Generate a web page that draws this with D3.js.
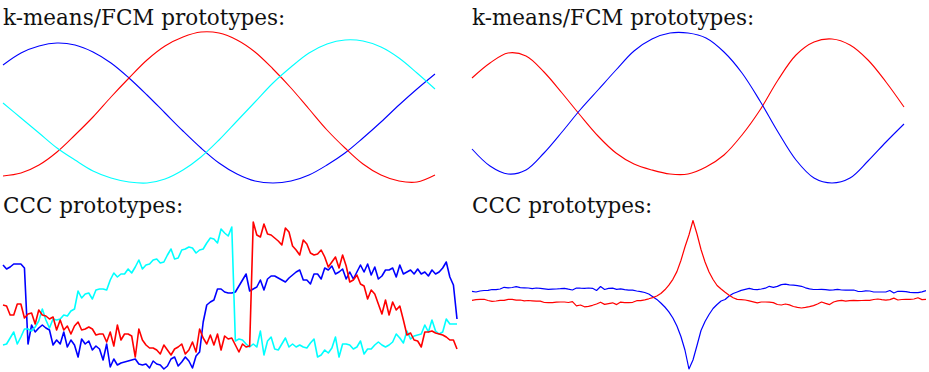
<!DOCTYPE html>
<html>
<head>
<meta charset="utf-8">
<script src="https://cdn.jsdelivr.net/npm/d3@7"></script>
<style>
  body { margin: 0; background: #fff; }
</style>
</head>
<body>
<svg id="chart" width="929" height="372"></svg>
<script>
// k-means/FCM prototypes, left (3 clusters)
const kmLeftBlue = [119,131,138,141,139,132,121,106,89,71,53,36,21,10,3,1,3,9,19,31,46,62,79,95,110];
const kmLeftRed = [8,11,19,32,49,67,87,106,124,138,147,152,151,144,132,115,96,75,54,36,20,9,3,2,9];
const kmLeftCyan = [81,66,51,36,24,13,6,2,1,5,14,27,44,63,82,101,117,131,140,144,143,137,126,111,95];

// k-means/FCM prototypes, right (2 clusters)
const kmRightRed = [106,121,131,128,112,91,69,48,31,20,14,10,10,17,29,49,74,104,129,142,145,139,124,102,77];
const kmRightBlue = [35,18,10,14,31,52,74,94,114,133,145,151,151,146,132,111,83,52,24,6,1,6,23,42,60];

// CCC prototypes, left (3 clusters)
const cccLeftBlue = [
  107,103,105,108,108,108,104,28,47,40, 44,47,44,42,27,32,28,40,25,32,
  27,15,33,28,31,22,26,23,12,28, 5,13,7,9,10,11,12,13,8,7,
  8,4,11,8,7,3,6,13,15,6, 10,15,11,4,16,20,50,67,70,72,
  83,83,80,79,79,80,86,92,98,81, 83,85,92,82,93,96,96,94,92,90,
  94,97,100,102,92,92,88,98,98,93, 104,102,106,98,100,103,93,100,93,100,
  107,100,108,97,105,93,96,102,102,104, 95,107,98,100,102,98,103,98,100,96,
  102,98,100,104,110,95,87,53];
const cccLeftRed = [
  67,66,57,57,68,68,54,58,59,48, 62,57,56,53,55,42,52,42,46,38,
  46,50,42,43,45,43,37,38,38,30, 40,26,47,32,38,38,36,15,43,32,
  27,24,24,22,18,27,22,17,23,25, 28,18,22,30,20,43,34,28,37,27,
  38,22,36,33,34,27,20,28,25,26, 150,137,135,148,138,137,134,131,127,144,
  140,126,122,117,132,128,119,117,118,122, 115,105,110,115,104,117,106,90,92,97,
  88,86,73,82,78,68,58,72,57,70, 62,66,52,37,39,32,31,25,40,40,
  41,39,38,37,35,32,32,23];
const cccLeftCyan = [
  27,28,34,40,28,35,43,43,41,45, 51,63,52,44,53,52,53,57,56,61,
  63,81,74,78,79,73,82,83,83,82, 92,99,95,98,98,103,99,105,112,103,
  107,108,112,113,109,110,117,123,113,114, 122,123,125,124,119,122,123,129,134,133,
  129,143,139,136,145,31,33,32,28,25, 28,25,41,17,31,35,23,22,28,34,
  25,28,25,27,25,24,29,33,15,17, 22,19,24,35,15,28,28,27,23,25,
  31,18,23,23,27,30,27,25,27,30, 38,34,29,41,33,36,37,38,47,40,
  52,41,38,40,53,48,48,48];

// CCC prototypes, right (2 clusters)
const cccRightBlue = [
  80.7,80,81,81.5,81.7,82.5,82.3,83,84.7,84.2, 84.5,85.3,84.3,84.2,84,83.3,84,83.7,83.2,82.7,
  82.9,83,83.3,83.7,82.8,82,84,83.8,83.7,84, 83.7,81.5,85.5,82.5,83.6,83.8,82.7,83.2,82.3,81.8,
  81.8,81,80.4,79.5,78,75.3,72.6,69,65,60.2, 54,46,35.5,22,3,12,26.5,41.5,50.5,57.5,
  63.5,67.5,71,72.5,76,78.5,80,81.6,82.6,83.6, 82.7,82.4,83,83.8,85.7,84.7,85.6,87.4,87.8,87.2,
  86.8,86.3,85.7,84.2,83.1,82.5,82.5,82.7,82.4,81.9, 82.1,82.6,82,81.8,81.9,82,80.7,80.5,81.2,81,
  80,80,80,80,81.5,79,80.7,80.7,80.4,79.6, 79.3,79.3,80.2,81.3];
const cccRightRed = [
  71.7,72.3,72.7,72.7,71.5,70.7,71,71.7,71.7,72.7, 72.6,71.8,72,71.2,71.5,71.2,70.8,70.9,69.5,69.3,
  69.4,69.8,70,70,69.5,70.4,66.2,67,65.2,65.7, 66.7,68,69.8,67.6,68.4,69.2,67.4,69.9,69.3,69.3,
  69.7,71.3,71.3,72.2,73.2,74.4,76,78.5,82.2,86.8, 92.7,100.4,111.5,125,137,151.5,138,122.5,110,100,
  92.5,86.5,83,79.7,76.8,74.3,72.6,72.3,72,71.1, 70.2,69.1,70,70,69.9,69.4,67.5,67,68,67.1,
  65.5,64.6,64,64.6,65.3,66.4,68,70,68.6,67.4, 70,71.1,71.7,70.8,71.3,71.6,71.3,71.5,71.7,71.7,
  72.5,73,72.3,71.8,72.4,73.9,72,72.5,72.7,72.7, 73,74.2,72.4,72.7];

const titles = ['k-means/FCM prototypes:', 'k-means/FCM prototypes:', 'CCC prototypes:', 'CCC prototypes:'];

const svg = d3.select('#chart');

function drawPanel(cfg) {
  const g = svg.append('g');
  const n = d3.max(cfg.series, s => s.values.length);
  const x = d3.scaleLinear().domain([0, n - 1]).range([cfg.left, cfg.right]);
  const y = d3.scaleLinear().domain([0, 152]).range([cfg.bottom, cfg.top]);
  const line = d3.line()
    .x((d, i) => x(i))
    .y(d => y(d))
    .curve(cfg.curve);

  g.append('text')
    .attr('x', cfg.left)
    .attr('y', cfg.titleY)
    .attr('font-family', '"DejaVu Serif", serif')
    .attr('font-size', 21.5)
    .attr('fill', '#111')
    .text(cfg.title);

  cfg.series.forEach(s => {
    g.append('path')
      .attr('d', line(s.values))
      .attr('fill', 'none')
      .attr('stroke', s.color)
      .attr('stroke-width', cfg.lineWidth)
      .attr('stroke-linejoin', 'round');
  });
}

drawPanel({
  title: titles[0], left: 3, right: 435, top: 32, bottom: 184, titleY: 25,
  curve: d3.curveCatmullRom, lineWidth: 1.1,
  series: [{ values: kmLeftBlue, color: '#0000ff' }, { values: kmLeftRed, color: '#ff0000' }, { values: kmLeftCyan, color: '#00ffff' }]
});

drawPanel({
  title: titles[1], left: 472, right: 904, top: 32, bottom: 184, titleY: 25,
  curve: d3.curveCatmullRom, lineWidth: 1.1,
  series: [{ values: kmRightRed, color: '#ff0000' }, { values: kmRightBlue, color: '#0000ff' }]
});

drawPanel({
  title: titles[2], left: 3, right: 457, top: 220, bottom: 372, titleY: 213,
  curve: d3.curveLinear, lineWidth: 1.6,
  series: [{ values: cccLeftBlue, color: '#0000ff' }, { values: cccLeftCyan, color: '#00ffff' }, { values: cccLeftRed, color: '#ff0000' }]
});

drawPanel({
  title: titles[3], left: 472, right: 926, top: 220, bottom: 372, titleY: 213,
  curve: d3.curveLinear, lineWidth: 1.2,
  series: [{ values: cccRightBlue, color: '#0000ff' }, { values: cccRightRed, color: '#ff0000' }]
});
</script>
</body>
</html>
